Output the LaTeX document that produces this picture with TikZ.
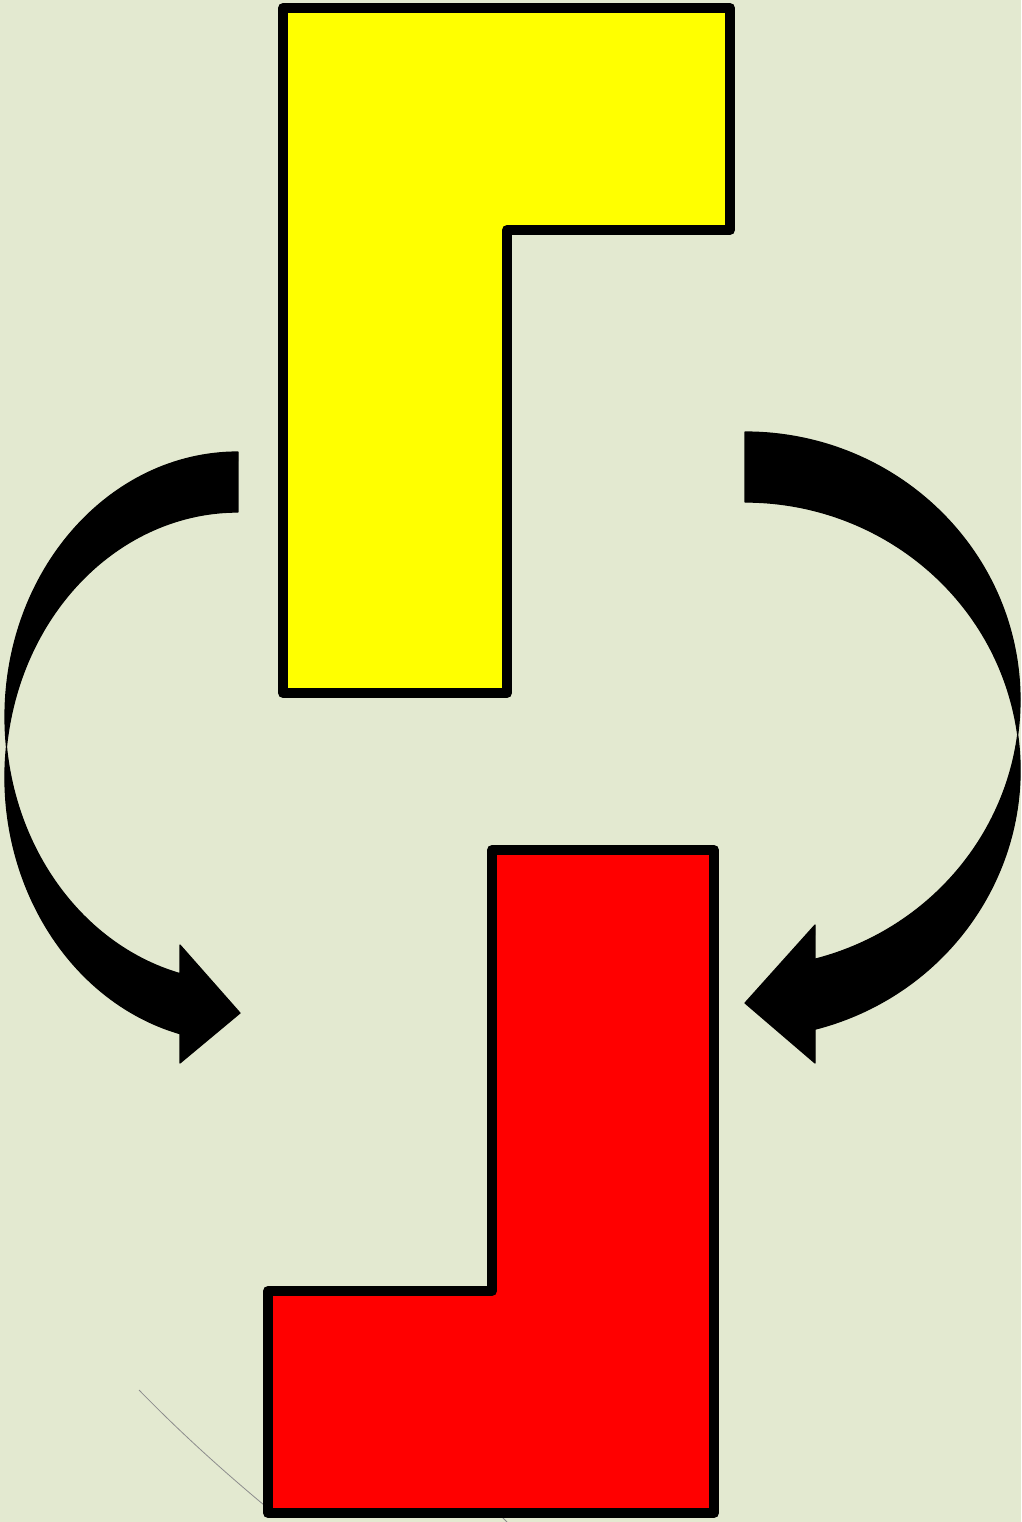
\documentclass[tikz,border=0pt]{standalone}
\definecolor{bgc}{RGB}{227,233,208}
\definecolor{yel}{RGB}{255,255,0}
\definecolor{redc}{RGB}{255,0,0}
\tikzset{
  piece/.style={draw=black,line width=10pt,line join=round},
  bigarrow/.style={fill=black,draw=black,line width=1.2pt,line join=round},
  faint/.style={draw=black!45,line width=0.8pt}
}
\begin{document}
\begin{tikzpicture}[x=1pt,y=1pt]
\fill[bgc] (0,0) rectangle (1021,-1522);
\useasboundingbox (0,0) rectangle (1021,-1522);
% faint lines
\draw[faint] (139,-1390) .. controls (180,-1432) and (222,-1470) .. (264,-1505);
\draw[faint] (500,-1515) -- (507,-1522);
% yellow piece
\path[piece,fill=yel] (283,-8) -- (730,-8) -- (730,-230) -- (507,-230) -- (507,-693) -- (283,-693) -- cycle;
% red piece
\path[piece,fill=redc] (492,-850) -- (714,-850) -- (714,-1513) -- (268,-1513) -- (268,-1291) -- (492,-1291) -- cycle;
% left curved arrow (two equal ellipses offset by the shaft thickness)
\path[bigarrow] (238,-452)
  arc[start angle=90,end angle=255.59,x radius=233pt,y radius=265pt]
  -- (180,-945) -- (240,-1013) -- (180,-1063) -- (180,-1033.7)
  arc[start angle=255.59,end angle=90,x radius=233pt,y radius=265pt]
  -- cycle;
% right curved arrow
\path[bigarrow] (745,-432)
  arc[start angle=90,end angle=-75.26,x radius=275pt,y radius=268pt]
  -- (815,-925) -- (745,-1003) -- (815,-1063) -- (815,-1029.2)
  arc[start angle=-75.26,end angle=90,x radius=275pt,y radius=268pt]
  -- cycle;
\end{tikzpicture}
\end{document}
